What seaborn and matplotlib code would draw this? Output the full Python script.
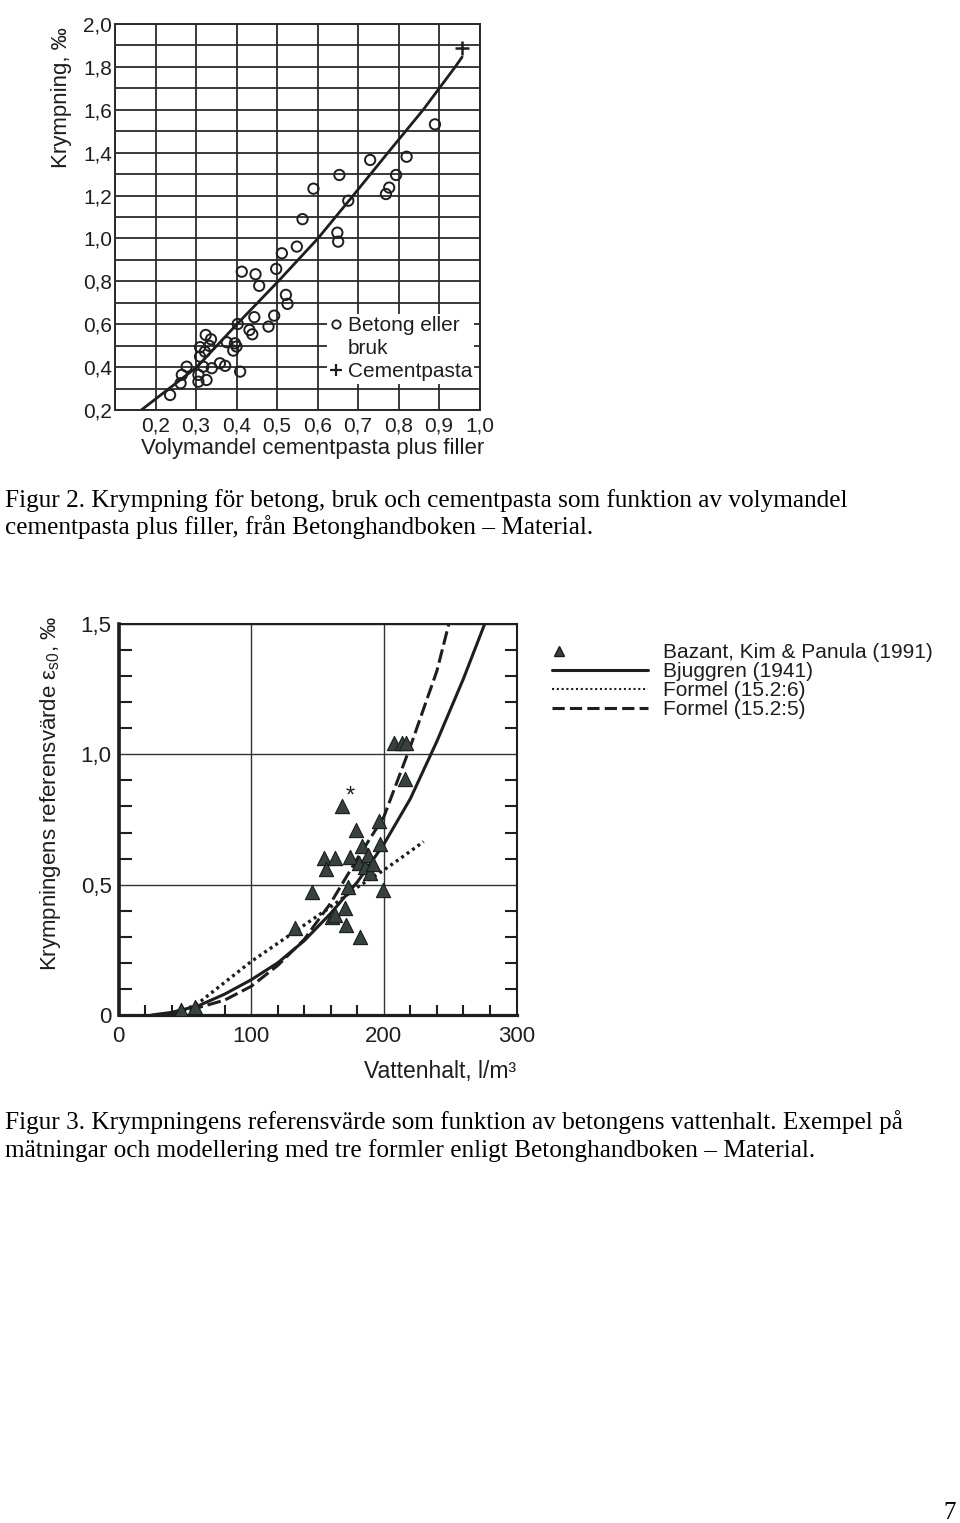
import numpy as np
import pandas as pd
import matplotlib
matplotlib.use("Agg")
import matplotlib.pyplot as plt
import seaborn as sns
from matplotlib.lines import Line2D
from matplotlib.legend_handler import HandlerLine2D
from matplotlib.ticker import MultipleLocator

# ---------------- Figur 2 data ----------------
betong_x = [0.236, 0.262, 0.265, 0.277, 0.306, 0.306, 0.326, 0.318, 0.339, 0.359,
            0.372, 0.409, 0.310, 0.310, 0.322, 0.333, 0.324, 0.337, 0.376, 0.396,
            0.400, 0.392, 0.403, 0.432, 0.439, 0.444, 0.479, 0.493, 0.522, 0.526,
            0.413, 0.447, 0.456, 0.498, 0.512, 0.549, 0.563, 0.590, 0.649, 0.651,
            0.654, 0.676, 0.730, 0.769, 0.777, 0.794, 0.820, 0.890]
betong_y = [0.270, 0.325, 0.364, 0.402, 0.332, 0.364, 0.340, 0.402, 0.395, 0.418,
            0.406, 0.379, 0.449, 0.493, 0.472, 0.499, 0.550, 0.530, 0.516, 0.511,
            0.496, 0.477, 0.601, 0.573, 0.553, 0.633, 0.589, 0.640, 0.737, 0.695,
            0.845, 0.833, 0.779, 0.858, 0.931, 0.962, 1.090, 1.232, 1.027, 0.985,
            1.296, 1.176, 1.366, 1.207, 1.237, 1.296, 1.381, 1.532]
pasta_x = [0.958]
pasta_y = [1.887]
fit2_x = [0.165, 0.302, 0.401, 0.503, 0.601, 0.688, 0.774, 0.861, 0.940, 0.957]
fit2_y = [0.200, 0.400, 0.600, 0.800, 1.000, 1.200, 1.400, 1.600, 1.800, 1.846]
fig2_xticks = [0.2, 0.3, 0.4, 0.5, 0.6, 0.7, 0.8, 0.9, 1.0]
fig2_xticklabels = ["0,2", "0,3", "0,4", "0,5", "0,6", "0,7", "0,8", "0,9", "1,0"]
fig2_yticks = [0.2, 0.4, 0.6, 0.8, 1.0, 1.2, 1.4, 1.6, 1.8, 2.0]
fig2_yticklabels = ["0,2", "0,4", "0,6", "0,8", "1,0", "1,2", "1,4", "1,6", "1,8", "2,0"]
fig2_labels = ["Betong eller", "bruk", "Cementpasta"]

# ---------------- Figur 3 data ----------------
bazant_x = [47, 58, 133, 145.6, 154.9, 163.2, 156.4, 160.7, 163.2, 168.2, 170.7,
            171.5, 173.2, 174.5, 179, 181.5, 182, 183.3, 185.8, 189.5, 188, 192,
            196.5, 197.1, 199.6, 207.6, 213.5, 216.5, 215.9]
bazant_y = [0.02, 0.03, 0.335, 0.473, 0.601, 0.601, 0.560, 0.377, 0.384, 0.802,
            0.409, 0.345, 0.492, 0.607, 0.710, 0.582, 0.300, 0.648, 0.569, 0.546,
            0.615, 0.580, 0.745, 0.656, 0.479, 1.045, 1.045, 1.045, 0.904]
bjuggren_x = [25, 40, 60, 80, 100, 120, 140, 160, 180, 200, 220, 240, 260, 276]
bjuggren_y = [0.0, 0.01, 0.035, 0.08, 0.135, 0.20, 0.285, 0.39, 0.51, 0.655,
              0.83, 1.05, 1.29, 1.50]
f156_x = [45, 50, 60, 70, 80, 90, 100, 120, 140, 160, 180, 200, 215, 230]
f156_y = [0.0, 0.02, 0.045, 0.085, 0.125, 0.165, 0.205, 0.275, 0.345, 0.415,
          0.49, 0.556, 0.61, 0.665]
f155_x = [40, 60, 80, 100, 120, 140, 160, 180, 200, 220, 240, 249]
f155_y = [0.0, 0.028, 0.057, 0.11, 0.19, 0.29, 0.43, 0.60, 0.76, 1.03, 1.32, 1.50]
star_x, star_y = 174.5, 0.837
fig3_xticks = [0, 100, 200, 300]
fig3_xticklabels = ["0", "100", "200", "300"]
fig3_yticks = [0, 0.5, 1.0, 1.5]
fig3_yticklabels = ["0", "0,5", "1,0", "1,5"]
fig3_labels = ["Bazant, Kim & Panula (1991)", "Bjuggren (1941)",
               "Formel (15.2:6)", "Formel (15.2:5)"]

caption2 = ["Figur 2. Krympning för betong, bruk och cementpasta som funktion av volymandel",
            "cementpasta plus filler, från Betonghandboken – Material."]
caption3 = ["Figur 3. Krympningens referensvärde som funktion av betongens vattenhalt. Exempel på",
            "mätningar och modellering med tre formler enligt Betonghandboken – Material."]

# ---------------- style ----------------
sns.set_style("white")
plt.rcParams['font.family'] = ['Liberation Sans', 'DejaVu Sans']
plt.rcParams['mathtext.fontset'] = 'custom'
plt.rcParams['mathtext.rm'] = 'Liberation Sans'
plt.rcParams['mathtext.it'] = 'Liberation Sans:italic'

W, H = 960, 1523
fig = plt.figure(figsize=(W / 100, H / 100), dpi=100)
fig.patch.set_facecolor('white')


def fax(l, t, r, b):
    return fig.add_axes([l / W, 1 - b / H, (r - l) / W, (b - t) / H])

# ================= Figur 2 =================
ink = '#1e1e1e'
ax1 = fax(115, 24, 479.5, 410)
ax1.set_facecolor('white')
df_b = pd.DataFrame({'x': betong_x, 'y': betong_y})
sns.lineplot(x=fit2_x, y=fit2_y, ax=ax1, color=ink, lw=2.0, sort=True, zorder=3)
sns.scatterplot(data=df_b, x='x', y='y', ax=ax1, marker='o', s=55,
                facecolors='none', edgecolor=ink, linewidth=1.4, zorder=4)
sns.scatterplot(x=pasta_x, y=pasta_y, ax=ax1, marker='+', s=110, color=ink,
                linewidth=1.8, zorder=4)
ax1.set_xlim(0.1, 1.0)
ax1.set_ylim(0.2, 2.0)
ax1.set_xticks(fig2_xticks)
ax1.set_xticklabels(fig2_xticklabels)
ax1.set_yticks(fig2_yticks)
ax1.set_yticklabels(fig2_yticklabels)
ax1.xaxis.set_minor_locator(MultipleLocator(0.1))
ax1.yaxis.set_minor_locator(MultipleLocator(0.1))
ax1.grid(True, which='both', color='#2a2a2a', lw=1.3)
ax1.set_axisbelow(True)
ax1.tick_params(which='both', length=0)
ax1.tick_params(axis='x', labelsize=15, pad=5, colors=ink)
ax1.tick_params(axis='y', labelsize=15, pad=2, colors=ink)
for s in ax1.spines.values():
    s.set_color('#2a2a2a')
    s.set_linewidth(1.4)
ax1.set_xlabel("Volymandel cementpasta plus filler", fontsize=16, color=ink)
ax1.xaxis.set_label_coords((313 - 115) / 364.5, (410 - 438) / 386)
ax1.set_ylabel("Krympning, ‰", fontsize=16, color=ink)
ax1.yaxis.set_label_coords((72 - 115) / 364.5, (410 - 98) / 386)

h_circ = Line2D([], [], marker='o', ls='none', mfc='none', mec=ink, mew=1.3, ms=6)
h_none = Line2D([], [], ls='none')
h_plus = Line2D([], [], marker='+', ls='none', color=ink, mew=1.6, ms=9)
leg1 = ax1.legend([h_circ, h_none, h_plus], fig2_labels, loc='upper left',
                  bbox_to_anchor=(327 / W, 1 - 314 / H), bbox_transform=fig.transFigure,
                  fontsize=15, handlelength=0.7, handletextpad=0.2, labelspacing=0.2,
                  borderpad=0.1, borderaxespad=0, frameon=True, fancybox=False,
                  framealpha=1, facecolor='white', edgecolor='none')
for t in leg1.get_texts():
    t.set_color(ink)

# ================= Figur 3 =================
tri_face = '#36433d'
ax2 = fax(118.5, 624, 516.5, 1015)
ax2.set_facecolor('white')
sns.lineplot(x=bjuggren_x, y=bjuggren_y, ax=ax2, color=ink, lw=2.2, zorder=3)
sns.lineplot(x=f156_x, y=f156_y, ax=ax2, color=ink, lw=2.4,
             linestyle=(0, (0.9, 1.1)), zorder=3)
sns.lineplot(x=f155_x, y=f155_y, ax=ax2, color=ink, lw=2.2,
             linestyle=(0, (4.5, 1.6)), zorder=3)
sns.scatterplot(x=bazant_x, y=bazant_y, ax=ax2, marker='^', s=105, color=tri_face,
                edgecolor='#1a1a1a', linewidth=0.8, zorder=4)
ax2.text(star_x, star_y, "*", fontsize=17, ha='center', va='center', color=ink,
         zorder=5)
ax2.set_xlim(0, 300)
ax2.set_ylim(0, 1.5)
ax2.set_xticks(fig3_xticks)
ax2.set_xticklabels(fig3_xticklabels)
ax2.set_yticks(fig3_yticks)
ax2.set_yticklabels(fig3_yticklabels)
ax2.xaxis.set_minor_locator(MultipleLocator(20))
ax2.yaxis.set_minor_locator(MultipleLocator(0.1))
ax2.grid(True, which='major', color='#333333', lw=1.0)
ax2.set_axisbelow(True)
ax2.tick_params(which='major', length=0)
ax2.tick_params(axis='x', which='major', labelsize=16, pad=8, colors=ink)
ax2.tick_params(axis='y', which='major', labelsize=16, pad=5, colors=ink)
ax2.tick_params(axis='x', which='minor', direction='in', length=7, width=1.5,
                bottom=True, top=False, color=ink)
ax2.tick_params(axis='y', which='minor', direction='in', length=9, width=1.5,
                left=True, right=True, color=ink)
ax2.spines['left'].set_linewidth(2.6)
ax2.spines['bottom'].set_linewidth(2.3)
ax2.spines['top'].set_linewidth(1.5)
ax2.spines['right'].set_linewidth(1.5)
for s in ax2.spines.values():
    s.set_color(ink)
ax2.set_xlabel("Vattenhalt, l/m³", fontsize=16.5, color=ink, loc='right')
ax2.xaxis.set_label_coords(1.0, (1015 - 1060) / 391)
ax2.set_ylabel(r"Krympningens referensvärde $\mathrm{\varepsilon_{s0}}$, ‰",
               fontsize=16, color=ink)
ax2.yaxis.set_label_coords((63 - 118.5) / 398, (1015 - 793) / 391)


class LeftMarkerHandler(HandlerLine2D):
    def get_xdata(self, legend, xdescent, ydescent, width, height, fontsize):
        m = -xdescent + 0.07 * width
        d = 0.07 * width
        return np.array([m - d, m + d]), np.array([m])


h_tri = Line2D([], [], marker='^', ls='none', mfc=tri_face, mec='#1a1a1a', ms=6.5)
h_sol = Line2D([], [], color=ink, lw=2.2)
h_dot = Line2D([], [], color=ink, lw=1.5, ls=(0, (1.0, 1.3)))
h_das = Line2D([], [], color=ink, lw=2.2, ls=(0, (4.0, 1.7)))
leg2 = ax2.legend([h_tri, h_sol, h_dot, h_das], fig3_labels, loc='upper left',
                  bbox_to_anchor=(552 / W, 1 - 643 / H), bbox_transform=fig.transFigure,
                  fontsize=15, handlelength=4.6, handletextpad=0.72,
                  labelspacing=0.0, borderpad=0, borderaxespad=0, frameon=False,
                  handler_map={h_tri: LeftMarkerHandler(numpoints=1)})
for t in leg2.get_texts():
    t.set_color(ink)

# ================= captions =================
serif = ['Liberation Serif', 'DejaVu Serif']
for i, line in enumerate(caption2):
    fig.text(5 / W, 1 - (507 + 27 * i) / H, line, family=serif, fontsize=18.2,
             ha='left', va='baseline', color='black')
for i, line in enumerate(caption3):
    fig.text(5 / W, 1 - (1129 + 28 * i) / H, line, family=serif, fontsize=18.2,
             ha='left', va='baseline', color='black')
fig.text(950 / W, 1 - 1519 / H, "7", family=serif, fontsize=18, ha='center',
         va='baseline', color='black')

fig.savefig("out.png", dpi=100, facecolor='white')
